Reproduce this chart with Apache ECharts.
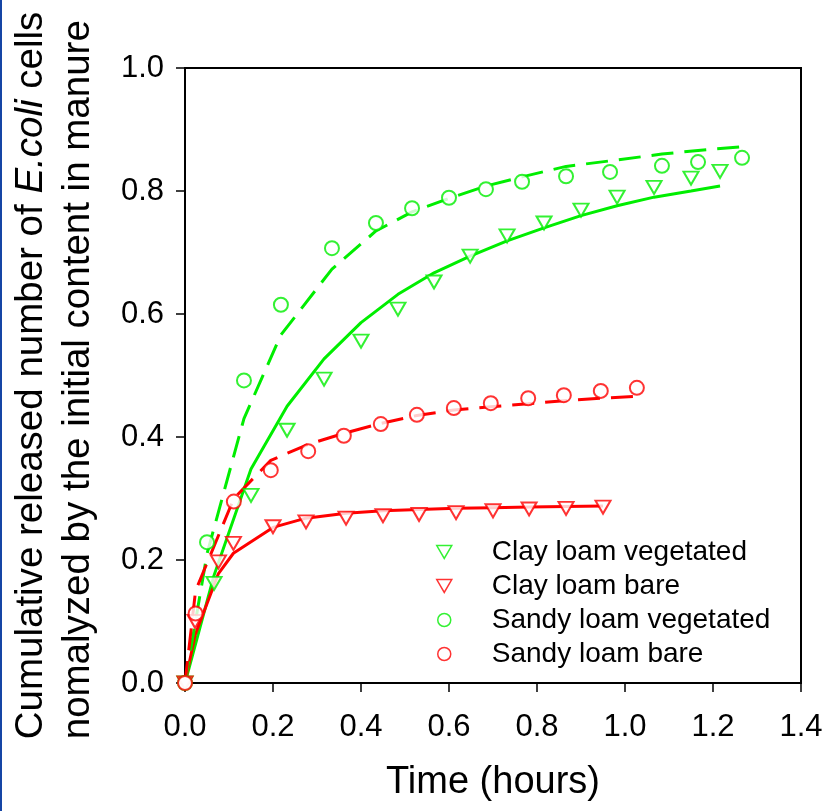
<!DOCTYPE html>
<html>
<head>
<meta charset="utf-8">
<script src="https://cdn.jsdelivr.net/npm/echarts@6/dist/echarts.min.js"></script>
<style>
html,body{margin:0;padding:0;background:#fff;}
#c{width:826px;height:811px;}
</style>
</head>
<body>
<div id="c"></div>
<script>
// ---- data ----
const xTicks = [0, 0.2, 0.4, 0.6, 0.8, 1.0, 1.2, 1.4];
const yTicks = [0, 0.2, 0.4, 0.6, 0.8, 1.0];

const seriesNames = ['Clay loam vegetated', 'Clay loam bare', 'Sandy loam vegetated', 'Sandy loam bare'];

const clayVegT   = [0, 0.066, 0.15, 0.232, 0.316, 0.4, 0.484, 0.566, 0.648, 0.732, 0.816, 0.9, 0.982, 1.066, 1.15, 1.216];
const clayVegObs = [0, 0.162, 0.305, 0.411, 0.494, 0.556, 0.608, 0.652, 0.694, 0.727, 0.748, 0.769, 0.790, 0.806, 0.821, 0.832];
const clayVegFit = [0, 0.175, 0.348, 0.45, 0.527, 0.586, 0.632, 0.667, 0.694, 0.719, 0.74, 0.76, 0.776, 0.79, 0.8, 0.808];

const clayBareT   = [0, 0.023, 0.076, 0.11, 0.2, 0.275, 0.366, 0.45, 0.532, 0.616, 0.7, 0.782, 0.866, 0.95];
const clayBareObs = [0, 0.1, 0.197, 0.227, 0.254, 0.262, 0.268, 0.272, 0.274, 0.277, 0.28, 0.283, 0.284, 0.286];
const clayBareFit = [0, 0.078, 0.178, 0.211, 0.253, 0.268, 0.276, 0.28, 0.282, 0.284, 0.285, 0.286, 0.287, 0.288];

const sandyVegT   = [0, 0.05, 0.134, 0.218, 0.334, 0.434, 0.516, 0.6, 0.684, 0.766, 0.866, 0.966, 1.084, 1.166, 1.266];
const sandyVegObs = [0, 0.229, 0.492, 0.615, 0.707, 0.748, 0.772, 0.789, 0.803, 0.815, 0.824, 0.831, 0.841, 0.847, 0.854];
const sandyVegFit = [0, 0.21, 0.43, 0.566, 0.673, 0.735, 0.766, 0.788, 0.808, 0.823, 0.84, 0.849, 0.86, 0.866, 0.872];

const sandyBareT   = [0, 0.024, 0.111, 0.195, 0.28, 0.361, 0.445, 0.527, 0.611, 0.695, 0.78, 0.861, 0.945, 1.027];
const sandyBareObs = [0, 0.113, 0.295, 0.346, 0.377, 0.402, 0.421, 0.436, 0.447, 0.455, 0.463, 0.468, 0.475, 0.48];
const sandyBareFit = [0, 0.15, 0.3, 0.362, 0.388, 0.406, 0.422, 0.435, 0.444, 0.449, 0.454, 0.459, 0.463, 0.466];

// ---- build ----
const GREEN = '#00ee00';
const RED = '#ff0000';
const FONT = '"Liberation Sans", Arial, sans-serif';
const TRI_DOWN = 'path://M0,0L20,0L10,17.3Z';
const zip = (t, v) => t.map((x, i) => [x, v[i]]);

function fitSeries(t, v, color, dashed) {
  return {
    type: 'line', data: zip(t, v), showSymbol: false, symbol: 'none',
    silent: true, z: 2,
    lineStyle: { color: color, width: 3, type: dashed ? [22, 11] : 'solid' }
  };
}
function obsSeries(name, t, v, color, tri) {
  return {
    name: name, type: 'scatter', data: zip(t, v), z: 3,
    symbol: tri ? 'emptyTriangle' : 'emptyCircle',
    symbolRotate: tri ? 180 : 0,
    symbolSize: tri ? [15, 13] : 14,
    itemStyle: { color: color, borderColor: color, borderWidth: 1.5 }
  };
}
const legendColors = [GREEN, RED, GREEN, RED];
const legendTri = [true, true, false, false];

const chart = echarts.init(document.getElementById('c'), null, { renderer: 'canvas' });
chart.setOption({
  animation: false,
  backgroundColor: '#fff',
  grid: { left: 185, right: 25, top: 68, bottom: 128, outerBoundsMode: 'none', containLabel: false,
          show: true, borderColor: '#000', borderWidth: 2, backgroundColor: 'transparent' },
  xAxis: {
    type: 'value', min: xTicks[0], max: xTicks[xTicks.length - 1], interval: 0.2,
    name: 'Time (hours)', nameLocation: 'middle', nameGap: 81,
    nameTextStyle: { fontSize: 38, fontFamily: FONT, color: '#000' },
    axisLine: { show: true, onZero: false, lineStyle: { color: '#000', width: 2 } },
    axisTick: { show: true, inside: false, length: 9, lineStyle: { color: '#000', width: 1.5 } },
    axisLabel: { fontSize: 31, fontFamily: FONT, color: '#000', margin: 29, formatter: v => v.toFixed(1) },
    splitLine: { show: false }
  },
  yAxis: {
    type: 'value', min: yTicks[0], max: yTicks[yTicks.length - 1], interval: 0.2,
    name: '{a|Cumulative released number of }{i|E.coli}{a| cells}\n{a|nomalyzed by the initial content in manure}',
    nameLocation: 'middle', nameGap: 83, nameRotate: 90,
    nameTextStyle: {
      fontSize: 38, fontFamily: FONT, color: '#000', lineHeight: 47,
      rich: {
        a: { fontSize: 38.5, fontFamily: FONT, color: '#000', lineHeight: 47, align: 'left' },
        i: { fontSize: 38.5, fontFamily: FONT, color: '#000', lineHeight: 47, fontStyle: 'italic', align: 'left' }
      }
    },
    axisLine: { show: true, onZero: false, lineStyle: { color: '#000', width: 2 } },
    axisTick: { show: true, inside: false, length: 9, lineStyle: { color: '#000', width: 1.5 } },
    axisLabel: { fontSize: 31, fontFamily: FONT, color: '#000', margin: 21, formatter: v => v.toFixed(1) },
    splitLine: { show: false }
  },
  legend: {
    orient: 'vertical', left: 431, top: 533,
    itemWidth: 15, itemHeight: 13, itemGap: 6,
    data: seriesNames.map((n, i) => ({
      name: n,
      icon: legendTri[i] ? TRI_DOWN : 'circle',
      itemStyle: { color: '#fff', borderColor: legendColors[i], borderWidth: 1.5 }
    })),
    textStyle: { fontSize: 28, fontFamily: FONT, color: '#000', lineHeight: 24, padding: [0, 0, 0, 35] }
  },
  graphic: [
    { type: 'rect', left: 0, top: 0, shape: { width: 2, height: 811 }, style: { fill: '#1545a5' }, silent: true }
  ],
  series: [
    fitSeries(clayVegT, clayVegFit, GREEN, false),
    fitSeries(clayBareT, clayBareFit, RED, false),
    fitSeries(sandyVegT, sandyVegFit, GREEN, true),
    fitSeries(sandyBareT, sandyBareFit, RED, true),
    obsSeries(seriesNames[0], clayVegT, clayVegObs, GREEN, true),
    obsSeries(seriesNames[1], clayBareT, clayBareObs, RED, true),
    obsSeries(seriesNames[2], sandyVegT, sandyVegObs, GREEN, false),
    obsSeries(seriesNames[3], sandyBareT, sandyBareObs, RED, false)
  ]
});
</script>
</body>
</html>
